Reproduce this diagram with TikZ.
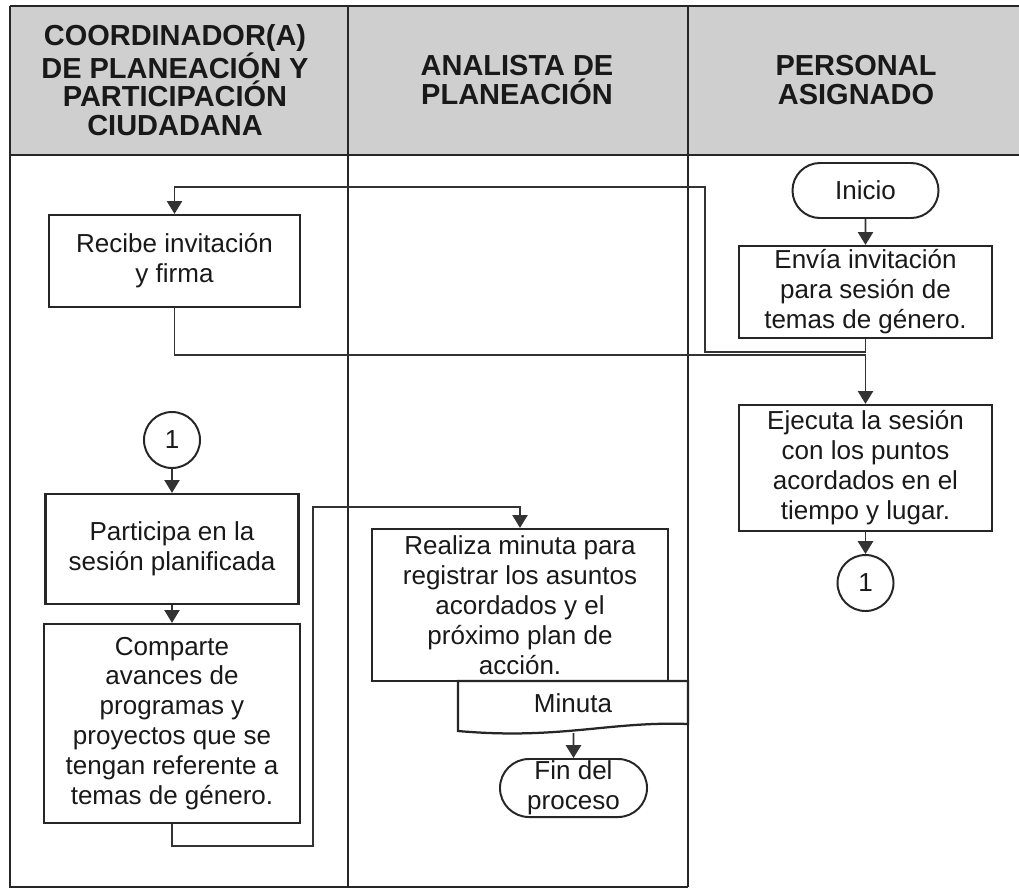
\documentclass[tikz,border=0pt]{standalone}
\usepackage{fontspec}
\setmainfont{Liberation Sans}
\usetikzlibrary{arrows.meta,shapes.misc}
\begin{document}
\begin{tikzpicture}[x=0.025cm, y=0.025cm,
  every node/.style={inner sep=0pt, text=black!90, font=\fontsize{18.5}{21.3}\selectfont},
  lane/.style={draw=black!85, line width=1.8pt},
  head/.style={align=center, font=\bfseries\fontsize{20.6}{20.3}\selectfont},
  proc/.style={draw=black!85, line width=1.6pt, fill=white, align=center},
  term/.style={draw=black!85, line width=1.4pt, fill=white, rounded rectangle, align=center},
  conn/.style={draw=black!85, line width=1.4pt, fill=white, circle, minimum size=1.4cm},
  docu/.style={draw=black!85, line width=1.6pt, fill=white},
  flow/.style={draw=black!80, line width=1.2pt, -{Triangle[width=0.38cm,length=0.32cm]}}]
\useasboundingbox (0,0) rectangle (1019,-890);
% swimlanes
\fill [black!19] (10,-6) rectangle (1019,-155);
\draw [lane] (10,-6) -- (1019,-6);
\draw [lane] (10,-155) -- (1019,-155);
\draw [lane] (10,-6) -- (10,-887) -- (688,-887);
\draw [lane] (348,-6) -- (348,-887);
\draw [lane] (688,-6) -- (688,-887);
\node [head] (coord) at (175,-80) {COORDINADOR(A)\\DE PLANEACIÓN Y\\PARTICIPACIÓN\\CIUDADANA};
\node [head] (analista) at (517,-80) {ANALISTA DE\\PLANEACIÓN};
\node [head] (personal) at (856,-80) {PERSONAL\\ASIGNADO};
% steps
\node [term, minimum width=3.65cm, minimum height=1.375cm] (inicio) at (865.5,-190.5) {Inicio};
\node [proc, minimum width=6.325cm, minimum height=2.3cm] (envia) at (865.5,-292) {Envía invitación\\para sesión de\\temas de género.};
\node [proc, minimum width=6.275cm, minimum height=2.3cm] (recibe) at (174.5,-261) {Recibe invitación\\y firma};
\node [proc, minimum width=6.325cm, minimum height=3.15cm] (ejecuta) at (865.5,-468) {Ejecuta la sesión\\con los puntos\\acordados en el\\tiempo y lugar.};
\node [conn] (conA) at (865.5,-583) {1};
\node [conn] (conB) at (172,-440) {1};
\node [proc, minimum width=6.325cm, minimum height=2.75cm] (participa) at (172,-549) {Participa en la\\sesión planificada};
\node [proc, minimum width=6.4cm, minimum height=4.975cm] (comparte) at (172,-723.5) {Comparte\\avances de\\programas y\\proyectos que se\\tengan referente a\\temas de género.};
\node [proc, minimum width=7.4cm, minimum height=3.8cm] (realiza) at (520,-605) {Realiza minuta para\\registrar los asuntos\\acordados y el\\próximo plan de\\acción.};
\draw [docu] (458,-681) -- (688,-681) -- (688,-724) .. controls (610,-721) and (560,-740) .. (458,-731) -- cycle;
\node (minuta) at (573,-703) {Minuta};
\coordinate (minutab) at (573.5,-733);
\node [term, minimum width=3.675cm, minimum height=1.45cm] (fin) at (573.5,-788) {Fin del\\proceso};
% connectors
\draw [flow] (inicio) -- (envia);
\draw [flow] (envia.south) -- ++(0,-13) -| (705,-187) -| (recibe.north);
\draw [flow] (recibe.south) -- ++(0,-47) -| (ejecuta.north);
\draw [flow] (ejecuta) -- (conA);
\draw [flow] (conB) -- (participa);
\draw [flow] (participa) -- (comparte);
\draw [flow] (comparte.south) -- ++(0,-22) -| (313,-507) -| (realiza.north);
\draw [flow] (minutab) -- (fin);
\end{tikzpicture}
\end{document}
